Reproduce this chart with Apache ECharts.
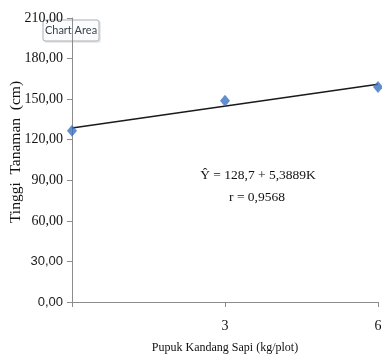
<!DOCTYPE html>
<html>
<head>
<meta charset="utf-8">
<script src="https://cdn.jsdelivr.net/npm/echarts@6/dist/echarts.min.js"></script>
<style>
html,body{margin:0;padding:0;background:#fff;}
#c{width:382px;height:360px;}
</style>
</head>
<body>
<div id="c"></div>
<script>
var doseX = [0, 3, 6];
var heightY = [126.6, 148.9, 159.0];
var trendX = [0, 6];
var trendY = [128.7, 161.03];
var yTicks = [0, 30, 60, 90, 120, 150, 180, 210];
var xTicks = [0, 3, 6];
var eqText = 'Ŷ = 128,7 + 5,3889K';
var rText = 'r = 0,9568';
var xTitle = 'Pupuk Kandang Sapi (kg/plot)';
var yTitle = 'Tinggi  Tanaman  (cm)';

var serif = '"Liberation Serif", "DejaVu Serif", serif';
var sans = '"Liberation Sans", "DejaVu Sans", sans-serif';

var chart = echarts.init(document.getElementById('c'), null, {renderer: 'canvas'});
chart.setOption({
  animation: false,
  backgroundColor: '#ffffff',
  grid: {left: 72, right: 4, top: 18, bottom: 58, containLabel: false, outerBoundsMode: 'none'},
  xAxis: {
    type: 'value', min: xTicks[0], max: xTicks[xTicks.length - 1], interval: 3,
    name: xTitle, nameLocation: 'middle', nameGap: 40,
    nameTextStyle: {fontFamily: serif, fontSize: 12, color: '#111'},
    axisLine: {show: true, onZero: false, lineStyle: {color: '#8c8c8c', width: 1}},
    axisTick: {show: true, length: 5, lineStyle: {color: '#8c8c8c'}},
    axisLabel: {fontFamily: serif, fontSize: 14, color: '#111', margin: 17,
      formatter: function (v) { return v === 0 ? '' : String(v); }},
    splitLine: {show: false}
  },
  yAxis: {
    type: 'value', min: yTicks[0], max: yTicks[yTicks.length - 1], interval: 30,
    axisLine: {show: true, lineStyle: {color: '#8c8c8c', width: 1}},
    axisTick: {show: true, length: 5, lineStyle: {color: '#8c8c8c'}},
    axisLabel: {fontFamily: serif, fontSize: 14, color: '#111', margin: 9,
      formatter: function (v) {
        var s = v.toFixed(2).replace('.', ',');
        return v <= 30 ? '{s|' + s + '}' : s;
      },
      rich: {s: {fontFamily: sans, fontSize: 13, color: '#222'}}
    },
    splitLine: {show: false}
  },
  series: [
    {
      type: 'line', data: trendX.map(function (x, i) { return [x, trendY[i]]; }),
      symbol: 'none', lineStyle: {color: '#1a1a1a', width: 1.5}, z: 2
    },
    {
      type: 'scatter', data: doseX.map(function (x, i) { return [x, heightY[i]]; }),
      symbol: 'diamond', symbolSize: [10, 12],
      itemStyle: {color: '#3c72c2'}, z: 3
    }
  ],
  graphic: [
    {type: 'text', x: 16, y: 152, rotation: Math.PI / 2, z: 10,
      style: {text: yTitle, fontFamily: serif, fontSize: 15.5, fill: '#111', align: 'center', verticalAlign: 'middle'}},
    {type: 'text', x: 258, y: 175, z: 10,
      style: {text: eqText, fontFamily: serif, fontSize: 13.5, fill: '#111', align: 'center', verticalAlign: 'middle'}},
    {type: 'text', x: 257, y: 197, z: 10,
      style: {text: rText, fontFamily: serif, fontSize: 13.5, fill: '#111', align: 'center', verticalAlign: 'middle'}},
    {type: 'group', x: 43, y: 20, z: 20, children: [
      {type: 'rect', shape: {x: 1, y: 1, width: 57, height: 22, r: 2},
        style: {fill: 'rgba(0,0,0,0.08)'}},
      {type: 'rect', shape: {x: 0, y: 0, width: 56, height: 21, r: 2},
        style: {fill: '#fbfcfd', stroke: '#a8aeb5', lineWidth: 1}},
      {type: 'text', x: 28, y: 10.5, style: {text: 'Chart Area', fontFamily: 'Lato, "Liberation Sans", sans-serif', fontSize: 11,
        fill: '#3a3f4a', align: 'center', verticalAlign: 'middle'}}
    ]}
  ]
});
</script>
</body>
</html>
